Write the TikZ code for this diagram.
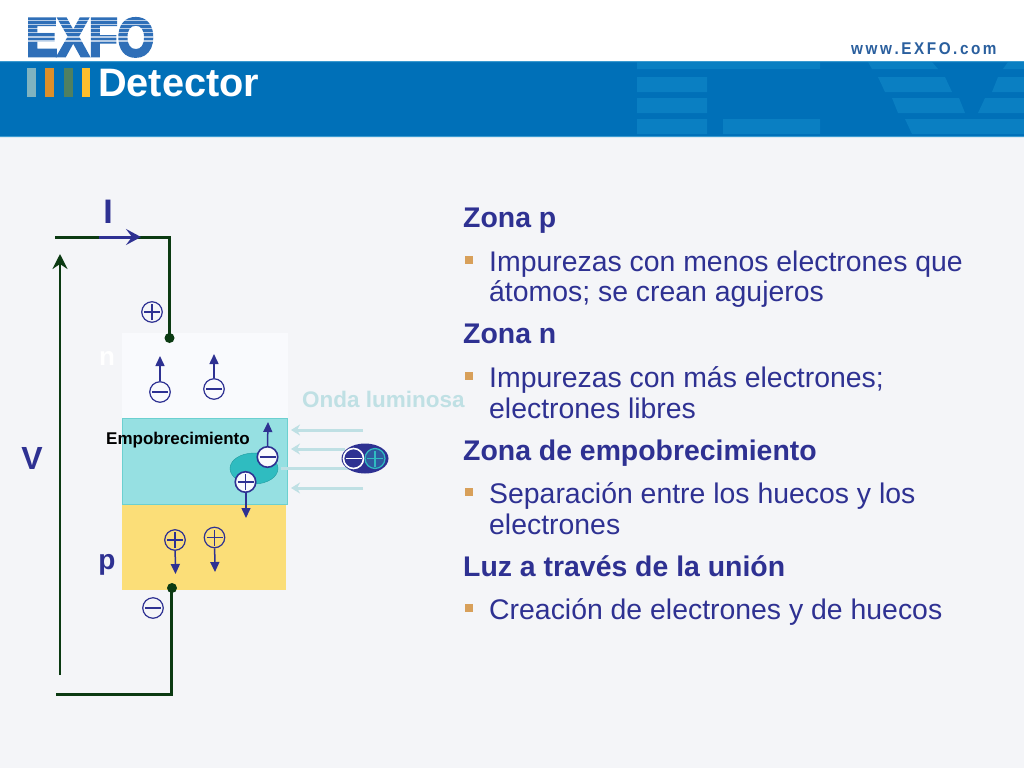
\documentclass[tikz,border=0pt]{standalone}
\usepackage{fontspec}
\setmainfont{Liberation Sans}
\newfontfamily\logofont[BoldFeatures={FakeBold=5}]{Liberation Sans}
\usetikzlibrary{arrows.meta,shapes.geometric}
\definecolor{bgc}{HTML}{F4F5F8}
\definecolor{hdr}{HTML}{0070B8}
\definecolor{hdredge}{HTML}{3A9AD0}
\definecolor{wm}{HTML}{0A7FC2}
\definecolor{logo}{HTML}{2F6FB8}
\definecolor{urlc}{HTML}{2A5F9E}
\definecolor{ink}{HTML}{2E3192}
\definecolor{wire}{HTML}{0B3A12}
\definecolor{teal}{HTML}{96E0E2}
\definecolor{tealb}{HTML}{6CD0D0}
\definecolor{tealdk}{HTML}{2FBCC0}
\definecolor{tealed}{HTML}{1E9A9E}
\definecolor{sand}{HTML}{FBDE78}
\definecolor{nbox}{HTML}{F9FAFD}
\definecolor{lite}{HTML}{BFE0E4}
\definecolor{bul}{HTML}{D8A05A}
\definecolor{bara}{HTML}{7FB3C0}
\definecolor{barb}{HTML}{DC8F2A}
\definecolor{barc}{HTML}{4F8060}
\definecolor{bard}{HTML}{FDBE2C}
\newcommand{\fs}[1]{\fontsize{#1}{#1}\selectfont}
\tikzset{x=1pt,y=-1pt,
  body/.style={anchor=base west,inner sep=0,text=ink,font=\fs{28.4}},
  head/.style={anchor=base west,inner sep=0,text=ink,font=\fs{28.4}\bfseries},
  bulletbox/.style={fill=bul,draw=none,minimum size=8pt,inner sep=0},
  poscharge/.style={circle,draw=ink,line width=1.2pt,minimum size=20.5pt,inner sep=0,
    path picture={\draw[ink,line width=1.1pt] ([xshift=-8pt]path picture bounding box.center)--([xshift=8pt]path picture bounding box.center) ([yshift=-8pt]path picture bounding box.center)--([yshift=8pt]path picture bounding box.center);}},
  negcharge/.style={circle,draw=ink,line width=1.2pt,minimum size=20.5pt,inner sep=0,
    path picture={\draw[ink,line width=1.1pt] ([xshift=-8pt]path picture bounding box.center)--([xshift=8pt]path picture bounding box.center);}},
  wireline/.style={draw=wire,line width=3pt},
  dotn/.style={circle,fill=wire,minimum size=10pt,inner sep=0},
  flow/.style={draw=ink,line width=1.5pt,-{Triangle[length=10pt,width=9pt]}},
  ray/.style={draw=lite,line width=3pt,-{Stealth[length=9pt,width=11pt]}},
  lbl/.style={text=ink,font=\fs{31}\bfseries,inner sep=0},
}
\begin{document}
\begin{tikzpicture}
\useasboundingbox (0,0) rectangle (1024,768);
\fill[bgc] (0,0) rectangle (1024,768);
\fill[white] (0,0) rectangle (1024,61);
\fill[hdr] (0,61) rectangle (1024,137);
\fill[hdredge] (0,61) rectangle (1024,62) (0,136) rectangle (1024,137);
% header watermark
\fill[wm] (637,62) rectangle (820,69) (637,77) rectangle (707,92) (637,98) rectangle (707,113) (637,119) rectangle (707,134) (723,119) rectangle (820,134);
\fill[wm] (868,62) -- (932,62) -- (938,69) -- (872,69) -- cycle;
\fill[wm] (878,77) -- (945,77) -- (952,92) -- (885,92) -- cycle;
\fill[wm] (892,98) -- (959,98) -- (965,113) -- (898,113) -- cycle;
\fill[wm] (905,119) -- (1024,119) -- (1024,134) -- (912,134) -- cycle;
\fill[wm] (1008,62) -- (1024,62) -- (1024,69) -- (1003,69) -- cycle;
\fill[wm] (998,77) -- (1024,77) -- (1024,92) -- (992,92) -- cycle;
\fill[wm] (985,98) -- (1024,98) -- (1024,113) -- (978,113) -- cycle;
% logo
\node (logotext) [anchor=base west,inner sep=0,text=logo,font=\logofont\fs{54}\bfseries,xscale=0.87] at (26,56) {EXFO};
\foreach \yy in {20,24,28,32,36.5,40.5}{\fill[white,opacity=.65] (20,\yy) rectangle (160,\yy+1.1);}
\node (url) [anchor=base west,inner sep=0,text=urlc,font=\fs{17}\bfseries,xscale=0.9] at (851,55) {w\,w\,w\,.\,E\,X\,F\,O\,.\,c\,o\,m};
% title bars
\fill[bara] (27,68) rectangle (36,97);
\fill[barb] (45,68) rectangle (54,97);
\fill[barc] (64,68) rectangle (73,97);
\fill[bard] (82,68) rectangle (90,97);
\node (title) [anchor=base west,inner sep=0,text=white,font=\fs{39.7}\bfseries] at (98,96) {Detector};
% device
\node (nzone) [fill=nbox,draw=none,minimum width=166pt,minimum height=86pt,inner sep=0,anchor=north west] at (121.5,332.7) {};
\node (pzone) [fill=sand,draw=none,minimum width=164pt,minimum height=85pt,inner sep=0,anchor=north west] at (121.5,504.5) {};
\node (dzone) [fill=teal,draw=tealb,line width=1pt,minimum width=165pt,minimum height=86pt,inner sep=0,anchor=north west] at (122,418) {};
% wires
\coordinate (wa) at (55,237);
\coordinate (wb) at (169.5,237);
\coordinate (wc) at (56,694);
\coordinate (wd) at (171,694);
\node (dn) [dotn] at (169.5,338) {};
\node (dp) [dotn] at (172,588) {};
\draw[wireline,line join=miter] (wa) -- (wb) -- (dn.center);
\draw[wireline,line join=miter] (wc) -- (wd) -- (wd|-dp.center);
\coordinate (va) at (60,675);
\coordinate (vb) at (60,254);
\draw[draw=wire,line width=2.5pt,-{Stealth[length=15pt,width=15pt,inset=5pt]}] (va) -- (vb);
\coordinate (ia) at (99,237);
\coordinate (ib) at (141,237);
\draw[draw=ink,line width=3pt,-{Stealth[length=15pt,width=16pt,inset=6pt]}] (ia) -- (ib);
% labels
\node (lI) [lbl,font=\fs{34}\bfseries] at (108,212) {I};
\node (lV) [lbl,font=\fs{32}\bfseries] at (32,458) {V};
\node (ln) [text=white,font=\fs{26}\bfseries,inner sep=0] at (107,358) {n};
\node (lp) [lbl,font=\fs{28}\bfseries] at (107,565) {p};
\node (lE) [anchor=base west,inner sep=0,text=black,font=\fs{17}\bfseries] at (106,444) {Empobrecimiento};
\node (lO) [anchor=base west,inner sep=0,text=lite,font=\fs{22.5}\bfseries] at (302,407) {Onda luminosa};
% terminal charges
\node (tp) [poscharge] at (152,312) {};
\node (tn) [negcharge] at (153,608) {};
% n zone
\node (n1) [negcharge] at (160,392) {};
\node (n2) [negcharge] at (214,389) {};
\coordinate (n1a) at (160,356);
\coordinate (n2a) at (214,354);
\draw[flow] (n1) -- (n1a);
\draw[flow] (n2) -- (n2a);
% p zone
\node (p1) [poscharge] at (175,540) {};
\node (p2) [poscharge] at (214.5,537.5) {};
\coordinate (p1a) at (175.5,574);
\coordinate (p2a) at (215,572);
\draw[flow] (p1) -- (p1a);
\draw[flow] (p2) -- (p2a);
% rays
\coordinate (r1) at (363,430); \coordinate (r1e) at (291,430);
\coordinate (r2) at (345,449); \coordinate (r2e) at (291,449);
\coordinate (r3) at (353,468); \coordinate (r3e) at (281,468);
\coordinate (r4) at (363,488); \coordinate (r4e) at (291,488);
\draw[ray] (r1) -- (r1e);
\draw[ray] (r2) -- (r2e);
\draw[draw=lite,line width=3pt] (r3) -- (r3e);
\draw[ray] (r4) -- (r4e);
% depletion charges
\node (pair) [ellipse,draw=tealed,fill=tealdk,minimum width=48pt,minimum height=31pt,inner sep=0] at (254,468.5) {};
\coordinate (upa) at (268,422);
\coordinate (dna) at (246,518);
\draw[flow] (267.5,446) -- (upa);
\draw[flow] (246,491) -- (dna);
\node (en) [negcharge,fill=nbox,line width=1.6pt] at (267.5,457) {};
\node (ep) [poscharge,fill=nbox,line width=1.6pt] at (245.5,482) {};
% photon
\node (ph) [ellipse,fill=ink,minimum width=47pt,minimum height=30pt,inner sep=0] at (365,458.5) {};
\node (phn) [circle,fill=ink,draw=white,line width=1.6pt,minimum size=20pt,inner sep=0,
  path picture={\draw[white,line width=1.5pt] ([xshift=-8pt]path picture bounding box.center)--([xshift=8pt]path picture bounding box.center);}] at (353.5,458.5) {};
\node (php) [circle,fill=ink!70!tealdk,draw=tealdk,line width=1.2pt,minimum size=20pt,inner sep=0,
  path picture={\draw[tealdk,line width=1.2pt] ([xshift=-8pt]path picture bounding box.center)--([xshift=8pt]path picture bounding box.center) ([yshift=-8pt]path picture bounding box.center)--([yshift=8pt]path picture bounding box.center);}] at (375,458.5) {};
% text
\node (t1) [head] at (463,227) {Zona p};
\node (b1) [bulletbox] at (468.5,259.5) {};
\node (t2) [body] at (489,271) {Impurezas con menos electrones que};
\node (t3) [body] at (489,301) {átomos; se crean agujeros};
\node (t4) [head] at (463,343) {Zona n};
\node (b2) [bulletbox] at (468.5,375.5) {};
\node (t5) [body] at (489,387) {Impurezas con más electrones;};
\node (t6) [body] at (489,418) {electrones libres};
\node (t7) [head] at (463,460) {Zona de empobrecimiento};
\node (b3) [bulletbox] at (468.5,491.5) {};
\node (t8) [body] at (489,503) {Separación entre los huecos y los};
\node (t9) [body] at (489,534) {electrones};
\node (t10) [head] at (463,576) {Luz a través de la unión};
\node (b4) [bulletbox] at (468.5,607.5) {};
\node (t11) [body] at (489,619) {Creación de electrones y de huecos};
\end{tikzpicture}
\end{document}
